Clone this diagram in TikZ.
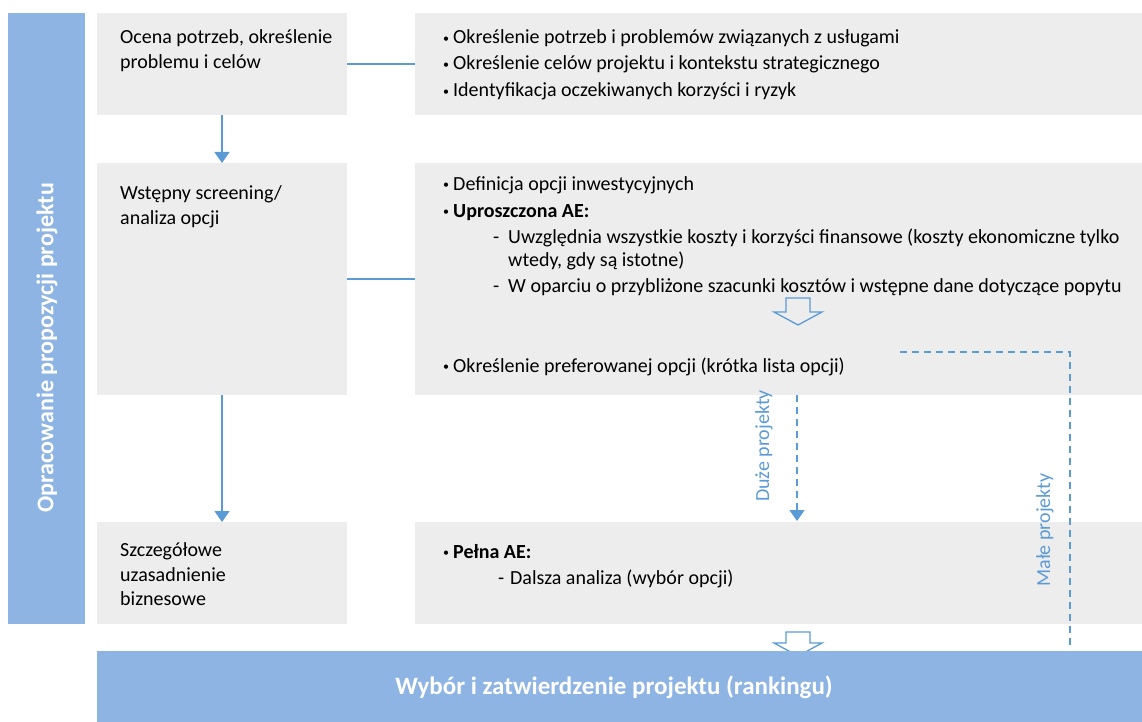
\documentclass[tikz,border=0pt]{standalone}
\usepackage{fontspec}
\setmainfont{Carlito}
\usetikzlibrary{arrows.meta}
\definecolor{barblue}{HTML}{8EB4E3}
\definecolor{boxgray}{HTML}{EDEDED}
\definecolor{lineblue}{HTML}{5B9BD5}
\newcommand{\bul}{\makebox[10pt][l]{\raisebox{1.5pt}{\fontsize{12}{12}\selectfont •}}}
\newcommand{\subd}[1]{\makebox[#1][l]{-}}
\begin{document}
\begin{tikzpicture}[x=1pt,y=-1pt,
  box/.style={fill=boxgray, draw=none, inner sep=0pt, outer sep=0pt, anchor=north west},
  bar/.style={fill=barblue, draw=none, inner sep=0pt, outer sep=0pt, anchor=north west},
  ltxt/.style={anchor=base west, inner sep=0pt, font=\fontsize{20}{24}\selectfont},
  rtxt/.style={anchor=base west, inner sep=0pt, font=\fontsize{20}{24}\selectfont},
  conn/.style={draw=lineblue, line width=1.5pt},
  arr/.style={conn, -{Triangle[width=15pt,length=11pt]}},
  dashedline/.style={draw=lineblue, line width=1.5pt, dash pattern=on 7pt off 5pt},
  hollow/.style={draw=lineblue, line width=1.3pt, line join=miter},
  vlabel/.style={rotate=90, text=lineblue, inner sep=0pt, font=\fontsize{20}{20}\selectfont},
  barlabel/.style={text=white, inner sep=0pt, font=\bfseries}
]
\useasboundingbox (0,0) rectangle (1142,722);

% boxes
\node[bar, minimum width=77pt, minimum height=611pt] (side) at (8,13) {};
\node[box, minimum width=250pt, minimum height=102pt] (b1) at (97,13) {};
\node[box, minimum width=250pt, minimum height=232pt] (b2) at (97,163) {};
\node[box, minimum width=250pt, minimum height=102pt] (b3) at (97,522) {};
\node[box, minimum width=727pt, minimum height=102pt] (r1) at (415,13) {};
\node[box, minimum width=727pt, minimum height=232pt] (r2) at (415,163) {};
\node[box, minimum width=727pt, minimum height=102pt] (r3) at (415,522) {};

% hollow arrows
\draw[hollow] (786,298) -- (810,298) -- (810,312) -- (822,312) -- (798,325) -- (774,312) -- (786,312) -- cycle;
\draw[hollow] (786,632) -- (810,632) -- (810,643) -- (822,643) -- (798,656) -- (774,643) -- (786,643) -- cycle;

\node[bar, minimum width=1045pt, minimum height=71pt] (bottom) at (97,651) {};

% bar labels
\node[barlabel, rotate=90, font=\fontsize{24}{28}\selectfont\bfseries] (sidetxt) at (47,348) {Opracowanie propozycji projektu};
\node[barlabel, font=\fontsize{25}{30}\selectfont\bfseries] (bottomtxt) at (614,687) {Wybór i zatwierdzenie projektu (rankingu)};

% connectors
\draw[arr] (b1.south) -- (b2.north);
\draw[arr] (b2.south) -- (b3.north);
\draw[conn] (b1.east) -- (r1.west);
\draw[conn] (b2.east) -- (r2.west);

\coordinate (d1) at (797,395);
\coordinate (d2) at (797,521);
\draw[dashedline, -{Triangle[width=15pt,length=11pt]}] (d1) -- (d2);
\coordinate (m1) at (900,352);
\coordinate (m2) at (1070,352);
\coordinate (m3) at (1070,645);
\draw[dashedline] (m1) -- (m2) -- (m3);

\node[vlabel] (duze) at (764,446) {Duże projekty};
\node[vlabel] (male) at (1045,530) {Małe projekty};

% left texts
\node[ltxt] (t11) at (120,44) {Ocena potrzeb, określenie};
\node[ltxt] (t12) at (120,69) {problemu i celów};
\node[ltxt] (t21) at (120,200) {Wstępny screening/};
\node[ltxt] (t22) at (120,224) {analiza opcji};
\node[ltxt] (t31) at (120,556) {Szczegółowe};
\node[ltxt] (t32) at (120,581) {uzasadnienie};
\node[ltxt] (t33) at (120,605) {biznesowe};

% right texts
\node[rtxt] (r11) at (443,44) {\bul Określenie potrzeb i problemów związanych z usługami};
\node[rtxt] (r12) at (443,70) {\bul Określenie celów projektu i kontekstu strategicznego};
\node[rtxt] (r13) at (443,97) {\bul Identyfikacja oczekiwanych korzyści i ryzyk};

\node[rtxt] (r21) at (443,190) {\bul Definicja opcji inwestycyjnych};
\node[rtxt] (r22) at (443,217) {\bul\textbf{Uproszczona AE:}};
\node[rtxt] (r23) at (493,243) {\subd{15pt}Uwzględnia wszystkie koszty i korzyści finansowe (koszty ekonomiczne tylko};
\node[rtxt] (r24) at (508,266) {wtedy, gdy są istotne)};
\node[rtxt] (r25) at (493,292) {\subd{15pt}W oparciu o przybliżone szacunki kosztów i wstępne dane dotyczące popytu};
\node[rtxt] (r26) at (443,372) {\bul Określenie preferowanej opcji (krótka lista opcji)};

\node[rtxt] (r31) at (443,558) {\bul\textbf{Pełna AE:}};
\node[rtxt] (r32) at (498,584) {\subd{12pt}Dalsza analiza (wybór opcji)};
\end{tikzpicture}
\end{document}
